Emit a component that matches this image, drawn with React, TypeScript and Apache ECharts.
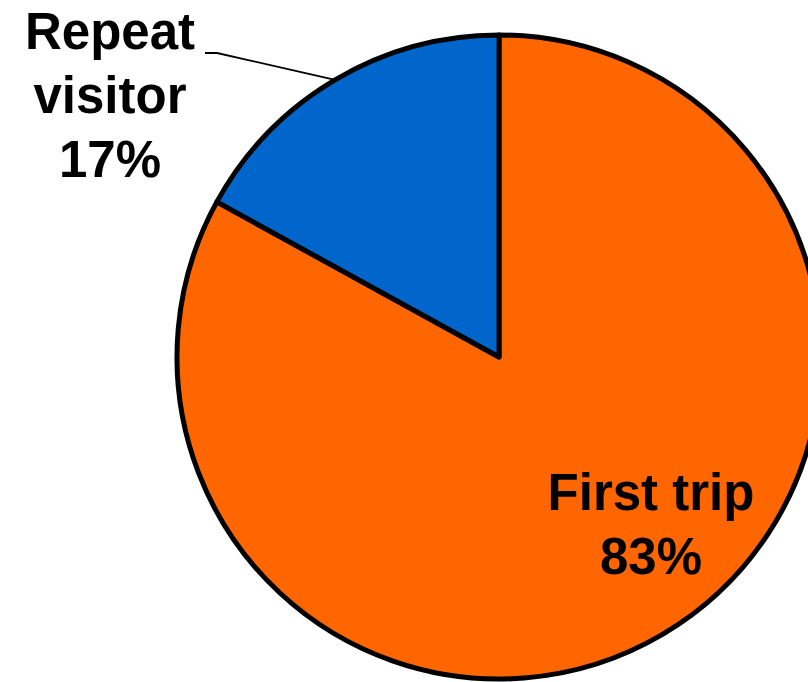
import React, { useEffect, useRef } from "react";
import * as echarts from "echarts";

const categories = ["First trip", "Repeat visitor"];
const labelTexts = ["First trip", "Repeat\nvisitor"];
const values = [83, 17];
const colors = ["#FF6600", "#0066CC"];

export default function App() {
  const ref = useRef<HTMLDivElement>(null);
  useEffect(() => {
    const chart = echarts.init(ref.current!, null, { renderer: "svg" });
    const cx = 499;
    const cy = 357;
    const r = 322;
    chart.setOption({
      animation: false,
      series: [
        {
          type: "pie",
          center: [cx, cy],
          radius: r,
          startAngle: 90,
          clockwise: true,
          avoidLabelOverlap: false,
          itemStyle: { borderColor: "#000", borderWidth: 5 },
          label: {
            show: true,
            position: "outside",
            fontFamily: "Liberation Sans",
            fontWeight: "bold",
            fontSize: 51,
            lineHeight: 64,
            color: "#000",
            align: "center",
            verticalAlign: "middle",
            formatter: (p: any) => `${labelTexts[p.dataIndex]}\n${p.value}%`,
          },
          labelLine: { show: true, length: 20, length2: 10, lineStyle: { color: "#000", width: 1.8 } },
          labelLayout: (params: any) => {
            if (params.dataIndex === 0) {
              return { x: 651, y: 524, align: "center", verticalAlign: "middle" };
            }
            const p0 = params.labelLinePoints ? params.labelLinePoints[0] : [335, 80];
            return {
              x: 110,
              y: 95,
              align: "center",
              verticalAlign: "middle",
              labelLinePoints: [p0, [217, 53], [205, 53]],
            };
          },
          data: categories.map((c, i) => ({
            name: c,
            value: values[i],
            itemStyle: { color: colors[i] },
            labelLine: { show: i === 1 },
          })),
        },
      ],
    });
    return () => chart.dispose();
  }, []);
  return (
    <div
      ref={ref}
      style={{ position: "absolute", left: 0, top: 0, width: 808, height: 682, background: "#fff" }}
    />
  );
}
